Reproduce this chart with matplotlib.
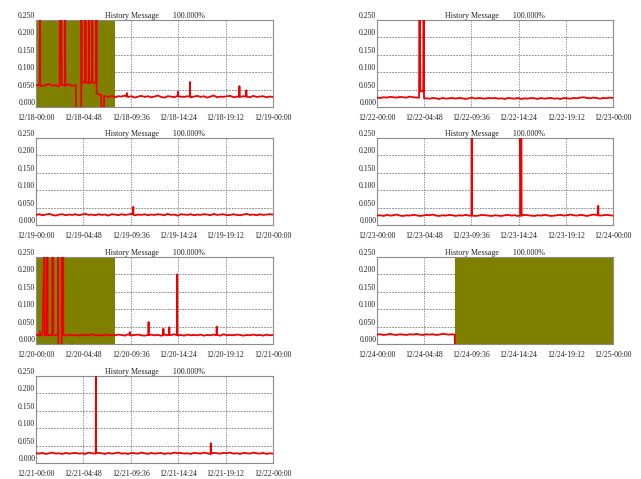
import matplotlib
matplotlib.use("Agg")
import matplotlib.pyplot as plt
import numpy as np

plt.rcParams['font.family'] = ['Liberation Serif', 'DejaVu Serif']

# one panel per day, left column first
days = ["12/18", "12/19", "12/20", "12/21", "12/22", "12/23", "12/24"]
next_days = ["12/19", "12/20", "12/21", "12/22", "12/23", "12/24", "12/25"]
tick_times = ["00:00", "04:48", "09:36", "14:24", "19:12"]
y_ticks = [0.0, 0.05, 0.10, 0.15, 0.20, 0.25]
y_labels = ["0.000", "0.050", "0.100", "0.150", "0.200", "0.250"]

# 20-minute samples, value x 1000
base_1218 = [62, 64, 60, 63, 66, 61, 63, 59, 64, 62, 65, 61,
             63, -20, 70, 73, 68, 71, 69, 36, -20, 31, 29, 32,
             28, 31, 30, 33, 29, 31, 27, 30, 32, 29, 31, 28,
             30, 33, 29, 27, 31, 30, 28, 32, 30, 29, 31, 28,
             30, 32, 29, 31, 27, 30, 33, 28, 30, 29, 31, 32,
             28, 30, 29, 31, 30, 28, 32, 29, 30, 31, 28, 30,
             29]
base_1219 = [29, 31, 28, 30, 32, 29, 27, 30, 31, 28, 30, 29,
             31, 28, 30, 32, 29, 30, 28, 31, 29, 30, 27, 31,
             30, 28, 31, 29, 30, 32, 28, 30, 29, 31, 28, 30,
             29, 31, 30, 28, 32, 29, 30, 27, 31, 30, 29, 31,
             28, 30, 29, 31, 30, 28, 32, 29, 30, 31, 28, 29,
             31, 29, 28, 30, 32, 29, 30, 28, 31, 29, 30, 31,
             30]
base_1220 = [26, 25, 27, 24, 26, 300, 25, -20, 300, 24, 27, 25,
             26, 24, 27, 25, 26, 28, 25, 26, 24, 27, 25, 26,
             25, 27, 26, 24, 28, 25, 26, 27, 25, 24, 26, 27,
             25, 26, 24, 27, 25, 26, 28, 25, 26, 24, 27, 25,
             26, 25, 27, 24, 26, 25, 27, 26, 24, 28, 25, 26,
             25, 27, 26, 24, 26, 25, 27, 25, 26, 24, 27, 25,
             26]
base_1221 = [28, 27, 29, 26, 28, 30, 27, 28, 26, 29, 27, 28,
             29, 27, 28, 26, 30, 28, 27, 29, 28, 26, 29, 27,
             28, 30, 27, 28, 26, 29, 28, 27, 30, 28, 26, 29,
             27, 28, 29, 26, 28, 27, 30, 28, 29, 27, 28, 26,
             29, 28, 27, 30, 28, 26, 29, 28, 27, 29, 28, 30,
             27, 28, 26, 29, 28, 27, 30, 28, 27, 29, 26, 28,
             27]
base_1222 = [27, 26, 28, 27, 29, 28, 27, 29, 28, 27, 30, 28,
             27, 300, 45, 25, 24, 26, 25, 23, 26, 24, 25, 26,
             24, 26, 25, 23, 25, 27, 24, 26, 25, 24, 26, 25,
             26, 24, 25, 23, 26, 25, 24, 26, 23, 25, 24, 26,
             25, 23, 26, 24, 25, 26, 24, 25, 23, 26, 25, 24,
             26, 25, 27, 28, 26, 25, 27, 26, 24, 26, 25, 27,
             26]
base_1223 = [27, 28, 26, 29, 27, 28, 30, 27, 26, 28, 27, 29,
             28, 26, 27, 29, 28, 30, 27, 26, 28, 27, 29, 28,
             26, 28, 27, 29, 27, 28, 26, 27, 29, 28, 27, 26,
             28, 27, 26, 28, 29, 27, 28, 26, 27, 29, 28, 27,
             26, 28, 27, 29, 28, 26, 27, 28, 29, 27, 28, 30,
             28, 27, 29, 28, 26, 28, 30, 29, 27, 28, 29, 28,
             27]
base_1224 = [27, 28, 26, 27, 29, 27, 26, 28, 27, 26, 28, 27,
             29, 27, 26, 28, 27, 28, 26, 27, 29, 28, 27, 28]

# (hour, value x 1000) for spikes and drop-outs between samples
events_1218 = [(0.38, 62), (0.40, 300), (0.42, 62),
               (2.40, 64), (2.42, 300), (2.58, 300), (2.60, 63),
               (2.93, 61), (2.95, 300), (2.97, 61),
               (4.03, 63), (4.06, -20), (4.58, -20), (4.60, 300), (4.63, 70),
               (4.98, 71), (5.00, 300), (5.02, 71),
               (5.33, 68), (5.35, 300), (5.37, 68),
               (5.68, 71), (5.70, 300), (5.72, 71),
               (6.10, 70), (6.12, 300), (6.14, 40),
               (6.60, 35), (6.62, -20), (6.88, -20), (6.90, 31),
               (9.18, 30), (9.20, 40), (9.22, 31),
               (14.38, 31), (14.40, 44), (14.42, 30),
               (15.58, 30), (15.60, 72), (15.62, 30),
               (20.58, 30), (20.60, 60), (20.62, 29),
               (21.28, 30), (21.30, 48), (21.32, 30)]
events_1219 = [(9.83, 31), (9.85, 52), (9.87, 30)]
events_1220 = [(0.38, 25), (0.40, 36), (0.42, 25),
               (0.65, 26), (0.85, 300), (0.90, 26),
               (1.13, 25), (1.15, 300), (1.17, 25),
               (1.63, 26), (1.65, 300), (1.73, 300), (1.75, 26),
               (2.23, 26), (2.25, 300), (2.27, -20), (2.60, -20),
               (2.62, 300), (2.75, 300), (2.77, 26),
               (9.48, 26), (9.50, 34), (9.52, 25),
               (11.38, 26), (11.40, 63), (11.42, 25),
               (12.88, 25), (12.90, 44), (12.92, 26),
               (13.48, 26), (13.50, 48), (13.52, 25),
               (14.28, 25), (14.30, 200), (14.32, 26),
               (18.28, 25), (18.30, 50), (18.32, 26)]
events_1221 = [(6.05, 28), (6.07, 300), (6.09, 28),
               (17.68, 27), (17.70, 57), (17.72, 27)]
events_1222 = [(4.28, 27), (4.30, 300), (4.36, 300), (4.38, 150),
               (4.42, 45), (4.70, 45), (4.72, 300), (4.76, 300), (4.78, 25)]
events_1223 = [(9.60, 27), (9.62, 300), (9.66, 300), (9.68, 27),
               (14.55, 27), (14.57, 300), (14.67, 300), (14.69, 27),
               (22.48, 28), (22.50, 55), (22.52, 28)]
events_1224 = [(7.90, 27), (7.94, -20)]

# hours with no data, shaded
gaps = {"12/18": (0, 8), "12/20": (0, 8), "12/24": (7.94, 24)}

series = [(base_1218, events_1218), (base_1219, events_1219),
          (base_1220, events_1220), (base_1221, events_1221),
          (base_1222, events_1222), (base_1223, events_1223),
          (base_1224, events_1224)]

fig = plt.figure(figsize=(6.41, 4.79), dpi=100)
fig.patch.set_facecolor('white')

col_x = [36 / 641, 377 / 641]
col_w = [237 / 641, 236 / 641]
row_top = [20, 138, 257, 376]
h_px = 87

for k, day in enumerate(days):
    col, row = divmod(k, 4)
    bottom = (479 - row_top[row] - h_px) / 479
    ax = fig.add_axes([col_x[col], bottom, col_w[col], h_px / 479])

    base, events = series[k]
    t = np.concatenate([np.arange(len(base)) / 3, [e[0] for e in events]])
    v = np.concatenate([np.array(base), [e[1] for e in events]]) / 1000
    order = np.argsort(t, kind='stable')

    if day in gaps:
        ax.axvspan(*gaps[day], color='#808000', lw=0, zorder=1)
    ax.plot(t[order], v[order], color='#ee0000', lw=1.3, zorder=3)

    ax.set_xlim(0, 24)
    ax.set_ylim(0, 0.25)
    ax.set_xticks([0, 4.8, 9.6, 14.4, 19.2, 24])
    ax.set_xticklabels([f"{day}-{s}" for s in tick_times] + [f"{next_days[k]}-00:00"])
    ax.set_yticks(y_ticks)
    ax.set_yticklabels(y_labels)
    for lab in ax.get_yticklabels():
        lab.set_verticalalignment('bottom')
    ax.tick_params(length=0, labelsize=5.6, colors='#222222')
    ax.tick_params(axis='y', pad=0.5)
    ax.tick_params(axis='x', pad=5)

    ax.set_axisbelow(True)
    ax.grid(True, axis='y', ls=(0, (2, 1.5)), color='#777777', lw=0.6)
    ax.grid(True, axis='x', ls=(0, (1.5, 1.5)), color='#777777', lw=0.6)
    for sp in ax.spines.values():
        sp.set_color('#8c8c8c')
        sp.set_linewidth(0.8)

    ax.set_title("History Message       100.000%", fontsize=5.8, pad=1.5,
                 color='#222222')

fig.savefig("out.png", dpi=100, facecolor='white')
